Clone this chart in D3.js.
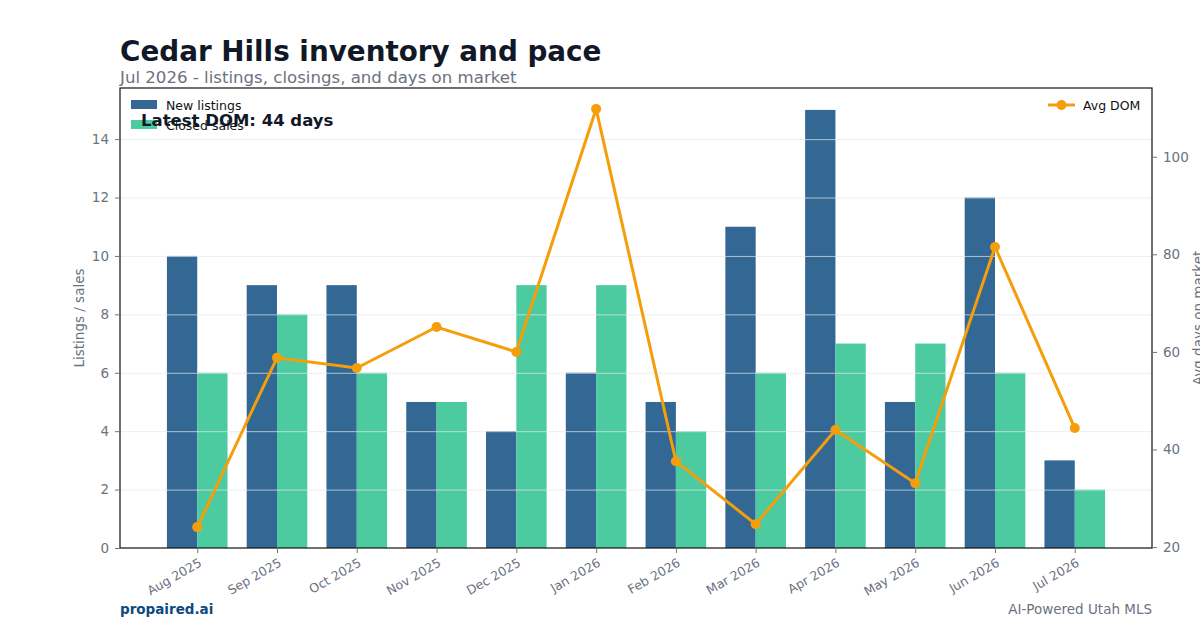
<!DOCTYPE html>
<html>
<head>
<meta charset="utf-8">
<script src="https://cdn.jsdelivr.net/npm/d3@7"></script>
<style>
  body { margin: 0; background: #fff; }
  svg, svg text { font-family: "DejaVu Sans", sans-serif; }
  .tick text { fill: #6b7280; }
  .grid line { stroke: #e5e7eb; stroke-opacity: 0.7; }
</style>
</head>
<body>
<div id="chart"></div>
<script>
var w = 1200;
var h = 630;

// data
var months = ["Aug 2025", "Sep 2025", "Oct 2025", "Nov 2025", "Dec 2025", "Jan 2026",
              "Feb 2026", "Mar 2026", "Apr 2026", "May 2026", "Jun 2026", "Jul 2026"];
var newListings = [10, 9, 9, 5, 4, 6, 5, 11, 15, 5, 12, 3];
var closedSales = [6, 8, 6, 5, 9, 9, 4, 6, 7, 7, 6, 2];
var avgDom = [24.1, 58.8, 56.7, 65.1, 60, 109.8, 37.6, 24.7, 44, 33.1, 81.5, 44.4];
var leftTicks = [0, 2, 4, 6, 8, 10, 12, 14];
var rightTicks = [20, 40, 60, 80, 100];

var plot = {left: 120, right: 1152, top: 88, bottom: 548};
var barW = 0.38;
var font = "DejaVu Sans";

var svg = d3.select("#chart")
    .append("svg")
    .attr("width", w)
    .attr("height", h);

// x as a continuous index scale, like matplotlib's categorical bars
var xScale = d3.scaleLinear()
    .domain([-0.968, 11.968])
    .range([plot.left, plot.right]);

var yScale = d3.scaleLinear()
    .domain([0, 15.75])
    .range([plot.bottom, plot.top]);

var domMin = d3.min(avgDom), domMax = d3.max(avgDom);
var pad = (domMax - domMin) * 0.05;
var y2Scale = d3.scaleLinear()
    .domain([domMin - pad, domMax + pad])
    .range([plot.bottom, plot.top]);

// bars
svg.append("g").selectAll("rect")
    .data(newListings)
    .enter().append("rect")
    .attr("x", function(d, i) { return xScale(i - barW); })
    .attr("width", xScale(barW) - xScale(0))
    .attr("y", function(d) { return yScale(d); })
    .attr("height", function(d) { return yScale(0) - yScale(d); })
    .attr("fill", "#336794");

svg.append("g").selectAll("rect")
    .data(closedSales)
    .enter().append("rect")
    .attr("x", function(d, i) { return xScale(i); })
    .attr("width", xScale(barW) - xScale(0))
    .attr("y", function(d) { return yScale(d); })
    .attr("height", function(d) { return yScale(0) - yScale(d); })
    .attr("fill", "#4ccba0");

// gridlines over the bars
svg.append("g")
    .attr("class", "grid")
    .attr("transform", "translate(" + plot.left + ",0)")
    .call(d3.axisLeft(yScale).tickValues(leftTicks.slice(1))
        .tickSize(-(plot.right - plot.left)).tickFormat(""))
    .call(function(g) { g.select(".domain").remove(); });

// DOM line
var line = d3.line()
    .x(function(d, i) { return xScale(i); })
    .y(function(d) { return y2Scale(d); });

svg.append("path")
    .datum(avgDom)
    .attr("fill", "none")
    .attr("stroke", "#f59e0b")
    .attr("stroke-width", 3)
    .attr("d", line);

svg.append("g").selectAll("circle")
    .data(avgDom)
    .enter().append("circle")
    .attr("cx", function(d, i) { return xScale(i); })
    .attr("cy", function(d) { return y2Scale(d); })
    .attr("r", 5)
    .attr("fill", "#f59e0b");

// frame
svg.append("rect")
    .attr("x", plot.left).attr("y", plot.top)
    .attr("width", plot.right - plot.left)
    .attr("height", plot.bottom - plot.top)
    .attr("fill", "none")
    .attr("stroke", "#111")
    .attr("stroke-width", 1.2);

// axes
var xAxis = d3.axisBottom(xScale)
    .tickValues(d3.range(months.length))
    .tickFormat(function(i) { return months[i]; })
    .tickSize(5);

svg.append("g")
    .attr("transform", "translate(0," + plot.bottom + ")")
    .call(xAxis)
    .attr("font-family", font)
    .call(function(g) {
        g.select(".domain").remove();
        g.selectAll(".tick line").attr("stroke", "#6b7280");
        g.selectAll("text")
            .attr("font-size", 12.5)
            .attr("text-anchor", "end")
            .attr("dy", null)
            .attr("transform", "translate(0,9) rotate(-30)")
            .attr("y", 0).attr("x", 0)
            .attr("dominant-baseline", "hanging");
    });

svg.append("g")
    .attr("transform", "translate(" + plot.left + ",0)")
    .call(d3.axisLeft(yScale).tickValues(leftTicks).tickSize(5).tickPadding(6))
    .attr("font-family", font)
    .call(function(g) {
        g.select(".domain").remove();
        g.selectAll(".tick line").attr("stroke", "#6b7280");
        g.selectAll("text").attr("font-size", 13.5);
    });

svg.append("g")
    .attr("transform", "translate(" + plot.right + ",0)")
    .call(d3.axisRight(y2Scale).tickValues(rightTicks).tickSize(5).tickPadding(6))
    .attr("font-family", font)
    .call(function(g) {
        g.select(".domain").remove();
        g.selectAll(".tick line").attr("stroke", "#6b7280");
        g.selectAll("text").attr("font-size", 13.5);
    });

// axis titles
svg.append("text")
    .attr("transform", "translate(84," + ((plot.top + plot.bottom) / 2) + ") rotate(-90)")
    .attr("text-anchor", "middle")
    .attr("font-size", 13.5)
    .attr("fill", "#6b7280")
    .text("Listings / sales");

svg.append("text")
    .attr("transform", "translate(1203," + ((plot.top + plot.bottom) / 2) + ") rotate(-90)")
    .attr("text-anchor", "middle")
    .attr("font-size", 13.5)
    .attr("fill", "#6b7280")
    .text("Avg days on market");

// titles
svg.append("text")
    .attr("x", 120).attr("y", 61)
    .attr("font-size", 27.8)
    .attr("font-weight", "bold")
    .attr("fill", "#111827")
    .text("Cedar Hills inventory and pace");

svg.append("text")
    .attr("x", 120).attr("y", 83)
    .attr("font-size", 16.6)
    .attr("fill", "#6b7280")
    .text("Jul 2026 - listings, closings, and days on market");

// legends
var legendItems = [{label: "New listings", color: "#336794"}, {label: "Closed sales", color: "#4ccba0"}];
var lg = svg.append("g").selectAll("g")
    .data(legendItems)
    .enter().append("g")
    .attr("transform", function(d, i) { return "translate(131," + (100 + i * 20) + ")"; });
lg.append("rect").attr("width", 26).attr("height", 9).attr("fill", function(d) { return d.color; });
lg.append("text").attr("x", 35).attr("y", 9.5).attr("font-size", 12.5).attr("fill", "#111")
    .text(function(d) { return d.label; });

svg.append("line")
    .attr("x1", 1048).attr("x2", 1075).attr("y1", 105).attr("y2", 105)
    .attr("stroke", "#f59e0b").attr("stroke-width", 3);
svg.append("circle").attr("cx", 1061.5).attr("cy", 105).attr("r", 5).attr("fill", "#f59e0b");
svg.append("text").attr("x", 1083).attr("y", 109.5).attr("font-size", 12.5).attr("fill", "#111")
    .text("Avg DOM");

svg.append("text")
    .attr("x", 141).attr("y", 126)
    .attr("font-size", 16.5)
    .attr("font-weight", "bold")
    .attr("fill", "#111827")
    .text("Latest DOM: " + Math.round(avgDom[avgDom.length - 1]) + " days");

// footer
svg.append("text")
    .attr("x", 120).attr("y", 614)
    .attr("font-size", 13.5)
    .attr("font-weight", "bold")
    .attr("fill", "#0b4a80")
    .text("propaired.ai");

svg.append("text")
    .attr("x", 1152).attr("y", 614)
    .attr("text-anchor", "end")
    .attr("font-size", 13.5)
    .attr("fill", "#6b7280")
    .text("AI-Powered Utah MLS");
</script>
</body>
</html>
